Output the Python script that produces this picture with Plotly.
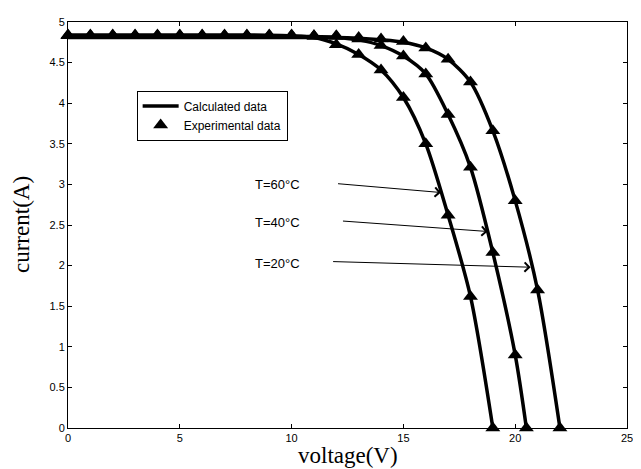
import plotly.graph_objects as go

# ---------------- data ----------------
# Experimental points (triangles)
exp_v_20 = [0, 1, 2, 3, 4, 5, 6, 7, 8, 9, 10, 11, 12, 13, 14, 15, 16, 17, 18, 19, 20, 21, 22]
exp_i_20 = [4.83, 4.83, 4.83, 4.83, 4.83, 4.83, 4.83, 4.83, 4.83, 4.83, 4.83, 4.83,
            4.83, 4.81, 4.79, 4.76, 4.68, 4.54, 4.26, 3.66, 2.80, 1.70, 0.00]

exp_v_40 = [0, 1, 2, 3, 4, 5, 6, 7, 8, 9, 10, 11, 12, 13, 14, 15, 16, 17, 18, 19, 20, 20.5]
exp_i_40 = [4.83, 4.83, 4.83, 4.83, 4.83, 4.83, 4.83, 4.83, 4.83, 4.83, 4.83, 4.83,
            4.82, 4.79, 4.71, 4.58, 4.36, 3.86, 3.21, 2.16, 0.90, 0.00]

exp_v_60 = [0, 1, 2, 3, 4, 5, 6, 7, 8, 9, 10, 11, 12, 13, 14, 15, 16, 17, 18, 19]
exp_i_60 = [4.84, 4.84, 4.84, 4.84, 4.84, 4.84, 4.84, 4.84, 4.84, 4.84, 4.84,
            4.82, 4.72, 4.60, 4.41, 4.07, 3.50, 2.62, 1.62, 0.00]

# Calculated curves (solid lines)
calc_v_20 = [0, 2, 4, 6, 8, 10, 11, 12, 13, 14, 15, 16, 17, 18, 19, 20, 21, 22]
calc_i_20 = [4.81, 4.81, 4.81, 4.81, 4.81, 4.81, 4.81, 4.81, 4.80, 4.78, 4.75, 4.68,
             4.54, 4.26, 3.66, 2.80, 1.70, 0.00]

calc_v_40 = [0, 2, 4, 6, 8, 10, 11, 12, 13, 14, 15, 16, 17, 18, 19, 20, 20.5]
calc_i_40 = [4.82, 4.82, 4.82, 4.82, 4.82, 4.82, 4.82, 4.81, 4.78, 4.71, 4.58, 4.36,
             3.86, 3.21, 2.16, 0.90, 0.00]

calc_v_60 = [0, 2, 4, 6, 8, 10, 11, 12, 13, 14, 15, 16, 17, 18, 19]
calc_i_60 = [4.84, 4.84, 4.84, 4.84, 4.84, 4.83, 4.81, 4.73, 4.60, 4.41, 4.07, 3.50,
             2.62, 1.62, 0.00]

# Temperature labels and arrows (data coordinates)
label_text = ["T=60°C", "T=40°C", "T=20°C"]
label_v = [9.35, 9.35, 9.35]
label_i = [3.00, 2.53, 2.03]
arrow_tail_v = [12.01, 12.23, 11.79]
arrow_tail_i = [3.01, 2.55, 2.05]
arrow_head_v = [16.68, 18.77, 20.69]
arrow_head_i = [2.90, 2.42, 1.98]

x_ticks = [0, 5, 10, 15, 20, 25]
y_ticks = [0, 0.5, 1, 1.5, 2, 2.5, 3, 3.5, 4, 4.5, 5]

# ---------------- figure ----------------
fig = go.Figure()

calc_sets = [(calc_v_20, calc_i_20), (calc_v_40, calc_i_40), (calc_v_60, calc_i_60)]
for k, (v, i) in enumerate(calc_sets):
    fig.add_trace(go.Scatter(
        x=v, y=i, mode="lines",
        line=dict(color="black", width=3.5, shape="spline", smoothing=0.8),
        name="Calculated data", showlegend=(k == 0), hoverinfo="skip"))

exp_sets = [(exp_v_20, exp_i_20), (exp_v_40, exp_i_40), (exp_v_60, exp_i_60)]
for k, (v, i) in enumerate(exp_sets):
    fig.add_trace(go.Scatter(
        x=v, y=i, mode="markers",
        marker=dict(symbol="triangle-up", size=13, color="black",
                    line=dict(width=0)),
        cliponaxis=False,
        name="Experimental data", showlegend=(k == 0)))

annotations = []
for t, lv, li in zip(label_text, label_v, label_i):
    annotations.append(dict(x=lv, y=li, xref="x", yref="y", text=t, showarrow=False,
                            font=dict(family="Liberation Sans, Arial", size=13, color="black")))
for tv, ti, hv, hi in zip(arrow_tail_v, arrow_tail_i, arrow_head_v, arrow_head_i):
    annotations.append(dict(x=hv, y=hi, xref="x", yref="y", ax=tv, ay=ti,
                            axref="x", ayref="y", text="", showarrow=True,
                            arrowhead=4, arrowsize=1.8, arrowwidth=1,
                            arrowcolor="black", standoff=0, startstandoff=0))

annotations.append(dict(x=0.5, y=0, xref="paper", yref="paper", text="voltage(V)",
                        showarrow=False, xanchor="center", yanchor="top", yshift=-13,
                        font=dict(family="Liberation Serif, Times New Roman", size=23,
                                  color="black")))
annotations.append(dict(x=0, y=0.5, xref="paper", yref="paper", text="current(A)",
                        showarrow=False, xanchor="center", yanchor="middle", xshift=-47,
                        textangle=-90, borderpad=0,
                        font=dict(family="Liberation Serif, Times New Roman", size=23,
                                  color="black")))

axis_common = dict(showline=True, linecolor="black", linewidth=1, mirror="ticks",
                   ticks="inside", ticklen=4, tickcolor="black", tickwidth=1,
                   showgrid=False, zeroline=False,
                   tickfont=dict(family="Liberation Sans, Arial", size=11, color="black"))

# The page body adds an 8px margin, so the figure is 8px smaller and the
# left/top margins are reduced by 8px to keep the plot area in place.
fig.update_layout(
    width=633, height=461,
    margin=dict(l=60, r=11, t=8, b=41),
    paper_bgcolor="white", plot_bgcolor="white",
    xaxis=dict(range=[0, 25], tickvals=x_ticks, **axis_common),
    yaxis=dict(range=[0, 5], tickvals=y_ticks, **axis_common),
    legend=dict(x=0.1228, y=0.831, xanchor="left", yanchor="top",
                bgcolor="white", bordercolor="black", borderwidth=1,
                font=dict(family="Liberation Sans, Arial", size=12, color="black"),
                tracegroupgap=0, itemwidth=36),
    annotations=annotations,
    showlegend=True,
)

fig.write_html("out.html")
